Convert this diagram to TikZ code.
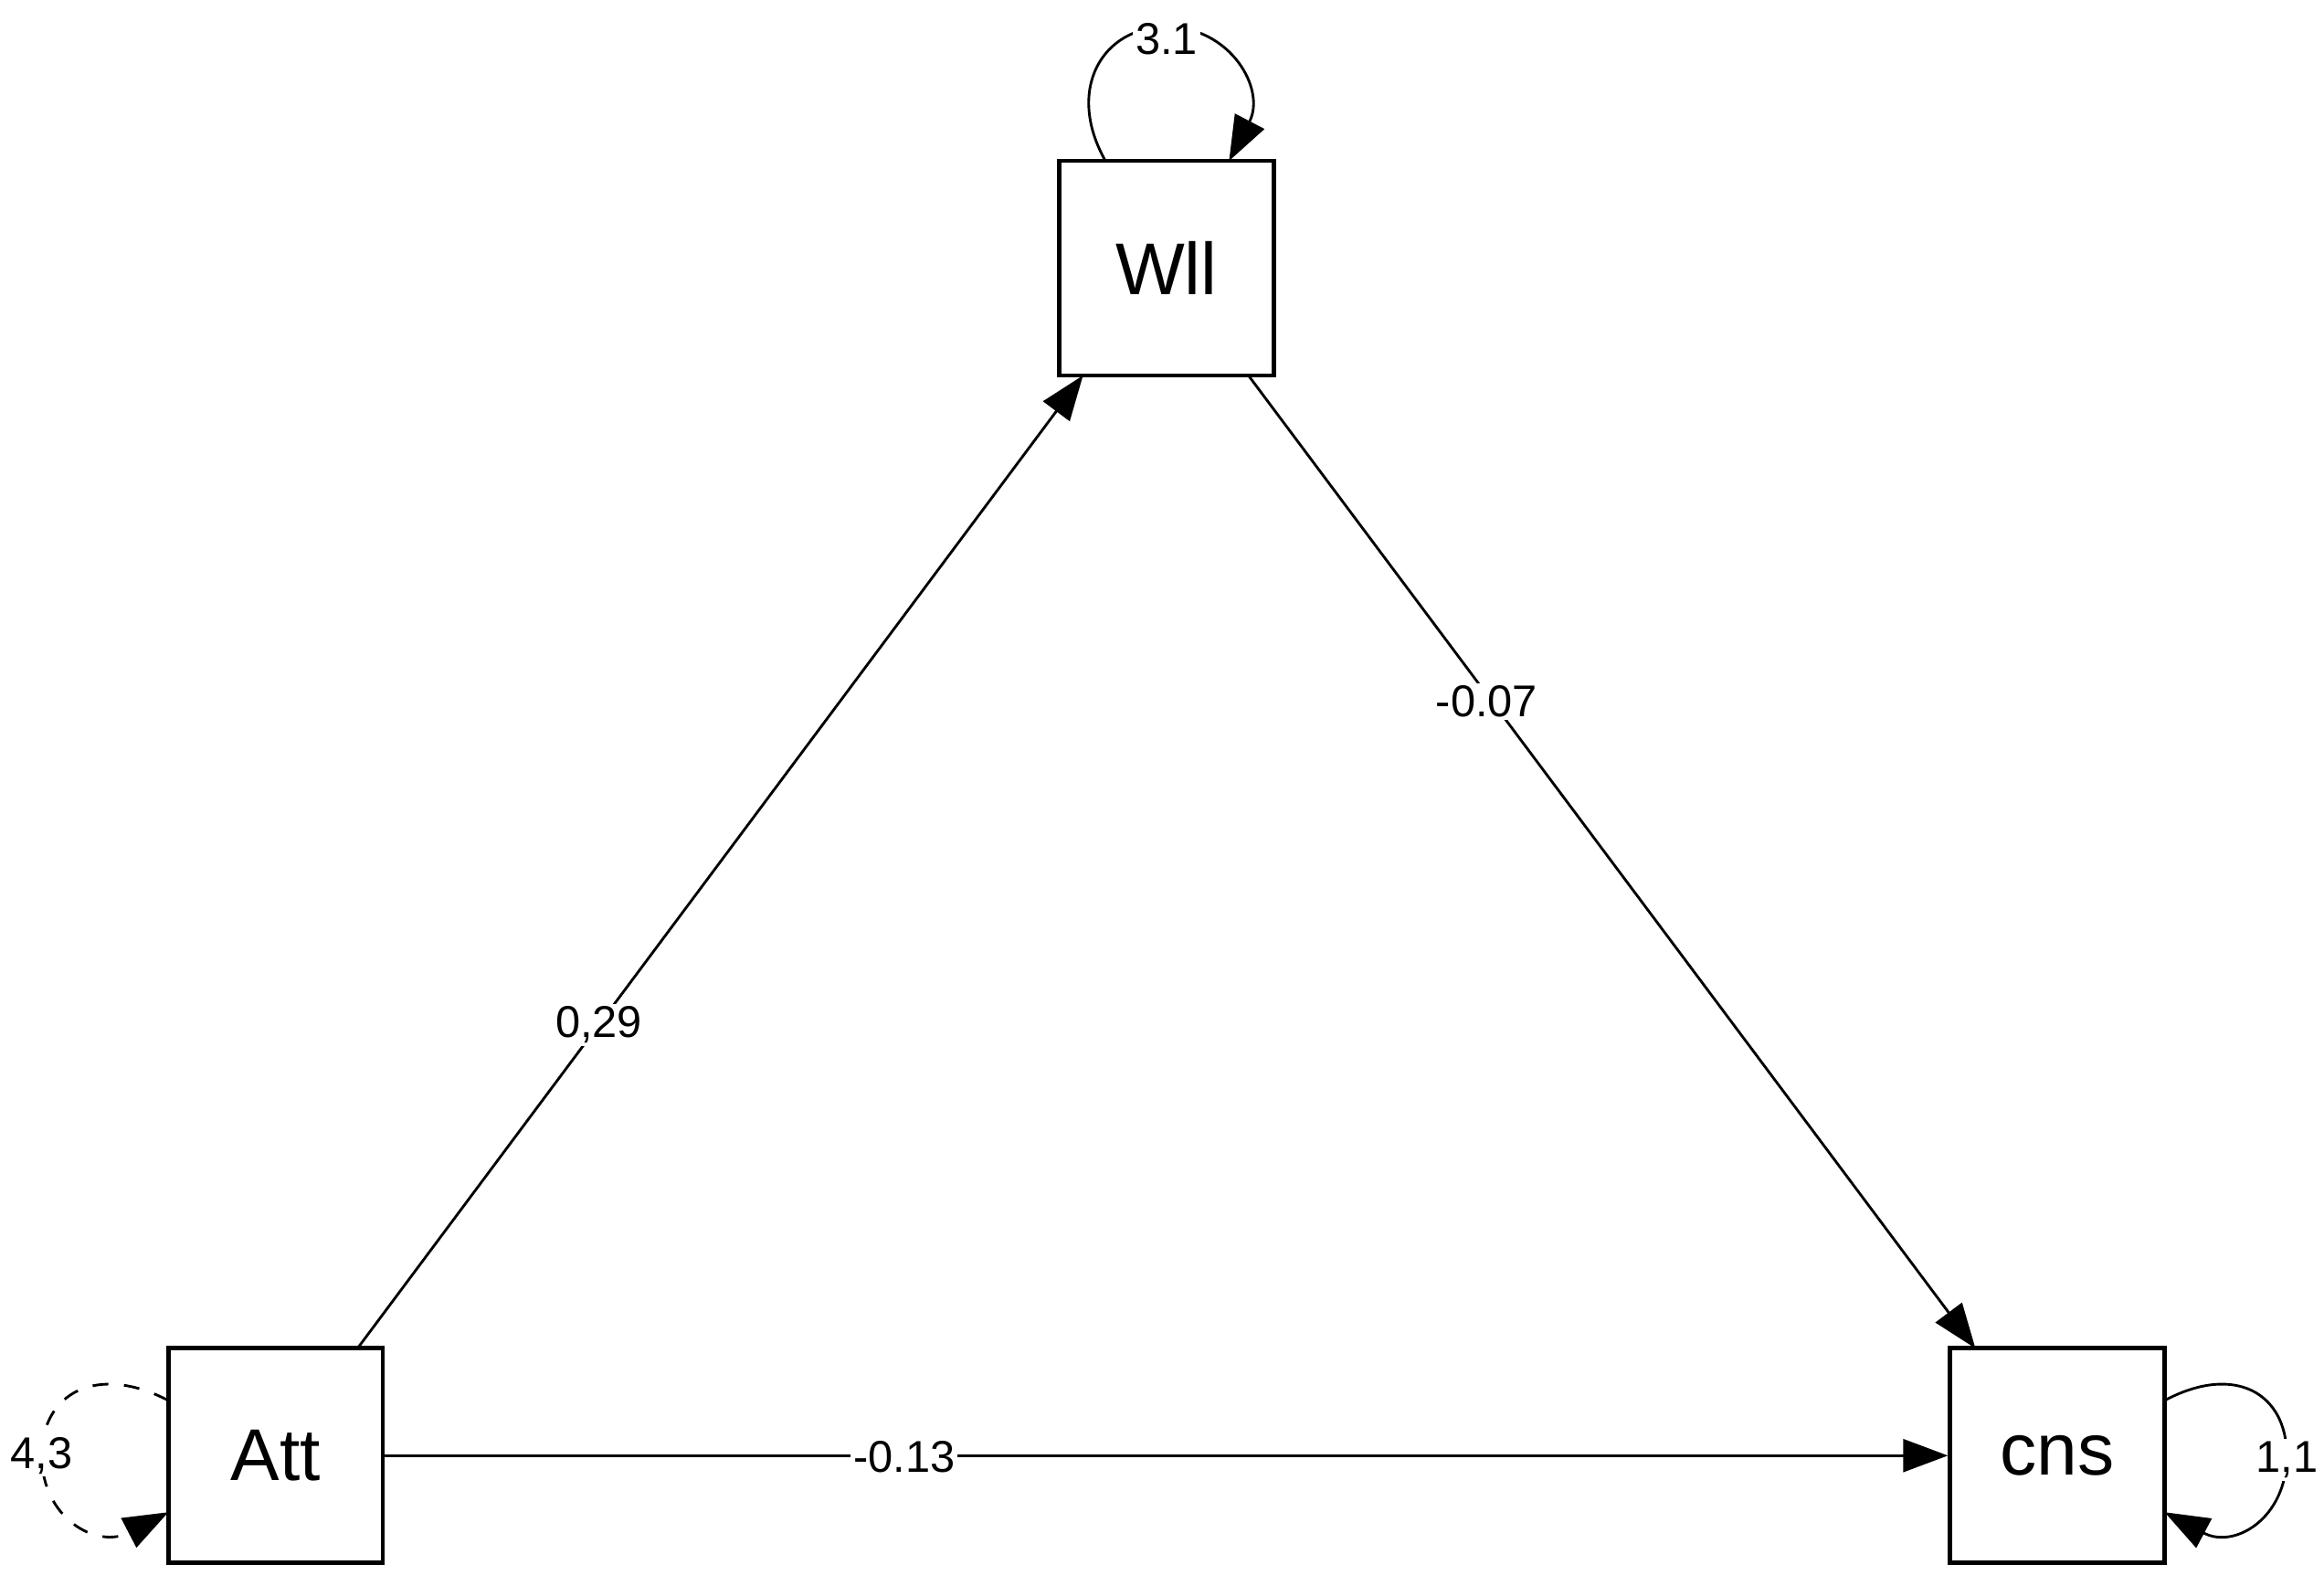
\documentclass[tikz,border=0pt]{standalone}
\usepackage{fontspec}
\setmainfont{Liberation Sans}
\usetikzlibrary{arrows.meta}
\begin{document}
\begin{tikzpicture}[x=0.01cm,y=-0.01cm,
  box/.style={draw,thick,minimum size=1.44cm,inner sep=0,font=\fontsize{14}{16}\selectfont},
  path/.style={-{Triangle[length=0.3cm,width=0.22cm]},line width=0.5pt},
  lab/.style={font=\fontsize{8.5}{10}\selectfont,fill=white,inner sep=0.5pt}]
\useasboundingbox (0,0) rectangle (1560,1064);
\node[box] (W) at (783,180) {Wll};
\node[box] (A) at (185,977) {Att};
\node[box] (C) at (1381,977) {cns};
\coordinate (A1) at (240,905);
\coordinate (W1) at (727,252);
\coordinate (W2) at (838,252);
\coordinate (C1) at (1326,905);
\draw[path] (A1) -- (W1);
\draw[path] (W2) -- (C1);
\draw[path] (A.east) -- (C.west);
\node[lab] at (402,688) {0,29};
\node[lab] at (998,471) {-0.07};
\node[lab] at (607,978) {-0.13};
% self loops
\coordinate (Wa) at (742,108);
\coordinate (Wb) at (825,108);
\draw[path] (Wa) .. controls (715,60) and (740,18) .. (783,18) .. controls (826,18) and (850,60) .. (Wb);
\node[lab] at (783,26) {3.1};
\coordinate (Aa) at (113,940);
\coordinate (Ab) at (113,1015);
\draw[path,dashed] (Aa) .. controls (65,915) and (28,935) .. (28,977) .. controls (28,1019) and (65,1040) .. (Ab);
\node[lab] at (28,977) {4,3};
\coordinate (Ca) at (1453,940);
\coordinate (Cb) at (1453,1015);
\draw[path] (Ca) .. controls (1500,915) and (1535,935) .. (1535,977) .. controls (1535,1019) and (1500,1040) .. (Cb);
\node[lab] at (1535,980) {1,1};
\end{tikzpicture}
\end{document}
